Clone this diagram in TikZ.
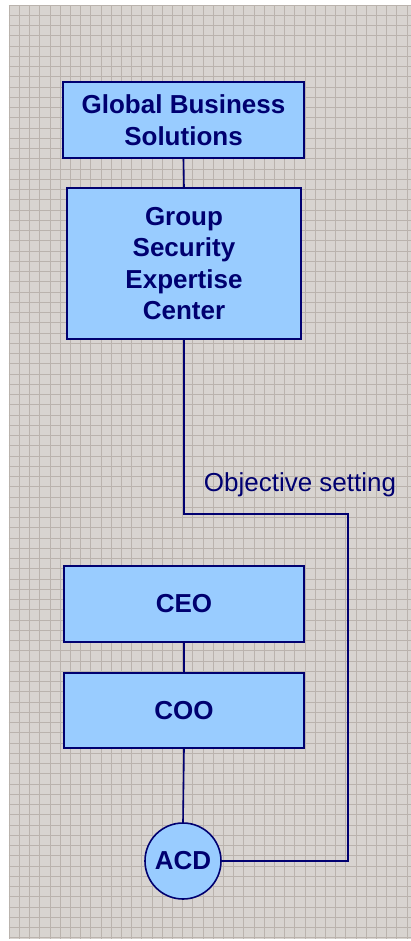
\documentclass[tikz,border=0pt]{standalone}
\usepackage{fontspec}
\setmainfont{Liberation Sans}
\definecolor{bgfill}{HTML}{D8D4D0}
\definecolor{gridc}{HTML}{BAB3AD}
\definecolor{boxfill}{HTML}{99CCFF}
\definecolor{navy}{HTML}{000070}
\tikzset{
  orgbox/.style={draw=navy, line width=1.6pt, fill=boxfill, text=navy,
    font=\fontsize{26}{31.5}\selectfont\bfseries, align=center, inner sep=0pt},
  orgcircle/.style={circle, draw=navy, line width=1.6pt, fill=boxfill, text=navy,
    font=\fontsize{26}{31.5}\selectfont\bfseries, inner sep=0pt, minimum size=76pt},
  link/.style={draw=navy, line width=1.6pt},
  linklabel/.style={text=navy, font=\fontsize{26}{31.5}\selectfont, inner sep=0pt}
}
\begin{document}
\begin{tikzpicture}[x=1pt,y=-1pt]
\useasboundingbox (0,0) rectangle (411,941);
% background
\fill[bgfill] (8.7,6) rectangle (411,939);
\begin{scope}
\clip (8.7,6) rectangle (411,939);
\foreach \i in {0,...,40} {
  \draw[gridc, line width=0.7pt] (9.1+10.2*\i,6) -- (9.1+10.2*\i,939);
}
\foreach \j in {0,...,91} {
  \draw[gridc, line width=0.7pt] (8.7,5+10.25*\j) -- (411,5+10.25*\j);
}
\end{scope}
% nodes
\node[orgbox, minimum width=241pt, minimum height=76pt] (gbs) at (183.5,120) {Global Business\\Solutions};
\node[orgbox, minimum width=234pt, minimum height=151pt] (gsec) at (184,263.5) {Group\\Security\\Expertise\\Center};
\node[orgbox, minimum width=240pt, minimum height=76pt] (ceo) at (184,604) {CEO};
\node[orgbox, minimum width=240pt, minimum height=75pt] (coo) at (184,710.5) {COO};
\node[orgcircle] (acd) at (183,861) {ACD};
\coordinate (turn) at (348,514);
\node[linklabel] (objlabel) at (300,485) {Objective setting};
% connectors
\draw[link] (gbs.south) -- (gsec.north);
\draw[link] (ceo.south) -- (coo.north);
\draw[link] (coo.south) -- (acd.north);
\draw[link] (gsec.south) |- (turn) |- (acd.east);
\end{tikzpicture}
\end{document}
